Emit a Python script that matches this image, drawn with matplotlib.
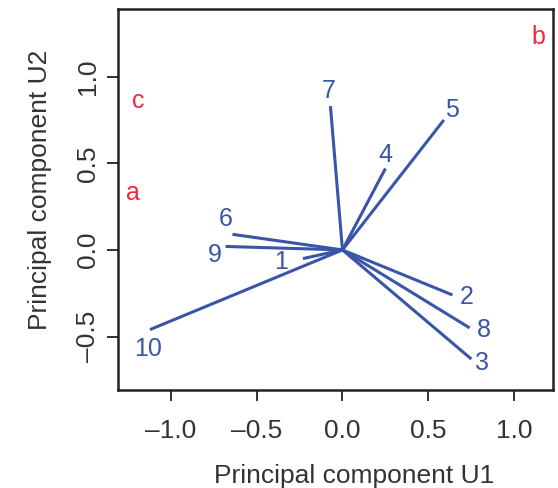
import matplotlib
matplotlib.use("Agg")
import matplotlib.pyplot as plt

plt.rcParams['font.family'] = ['Liberation Sans', 'DejaVu Sans']

# loadings (arrow end points)
ids = ["1", "2", "3", "4", "5", "6", "7", "8", "9", "10"]
u1 = [-0.23, 0.64, 0.75, 0.25, 0.59, -0.64, -0.07, 0.74, -0.68, -1.12]
u2 = [-0.05, -0.26, -0.63, 0.47, 0.75, 0.09, 0.83, -0.45, 0.02, -0.46]
# label positions
lab_u1 = [-0.36, 0.72, 0.81, 0.25, 0.64, -0.68, -0.08, 0.82, -0.74, -1.13]
lab_u2 = [-0.07, -0.27, -0.65, 0.55, 0.81, 0.18, 0.92, -0.46, -0.03, -0.57]

groups = ["a", "b", "c"]
grp_u1 = [-1.22, 1.14, -1.19]
grp_u2 = [0.33, 1.23, 0.86]

xticks = [-1.0, -0.5, 0.0, 0.5, 1.0]
yticks = [-0.5, 0.0, 0.5, 1.0]

blue = "#3A55A8"
red = "#F0283C"

fig = plt.figure(figsize=(5.58, 4.88), dpi=100)
ax = fig.add_axes([0.2115, 0.201, 0.7795, 0.780])

for x, y in zip(u1, u2):
    ax.plot([0, x], [0, y], color=blue, lw=2.2, solid_capstyle='butt')
for s, x, y in zip(ids, lab_u1, lab_u2):
    ax.text(x, y, s, color=blue, fontsize=18, ha='center', va='center')
for s, x, y in zip(groups, grp_u1, grp_u2):
    ax.text(x, y, s, color=red, fontsize=18, ha='center', va='center')

ax.set_xlim(-1.306, 1.225)
ax.set_ylim(-0.808, 1.389)
ax.set_xticks(xticks)
ax.set_yticks(yticks)
ax.set_xticklabels(["\u20131.0", "\u20130.5", "0.0", "0.5", "1.0"])
ax.set_yticklabels(["\u20130.5", "0.0", "0.5", "1.0"], rotation=90, va='center')
ax.tick_params(length=8, width=1.3, labelsize=19, color='#222222', labelcolor='#333333')
ax.tick_params(axis='x', pad=13)
ax.tick_params(axis='y', pad=5)
for sp in ax.spines.values():
    sp.set_linewidth(1.8)
    sp.set_color('#222222')
ax.set_xlabel("Principal component U1", fontsize=19, color='#333333', labelpad=15)
ax.set_ylabel("Principal component U2", fontsize=19, color='#333333', labelpad=17.5)
ax.xaxis.label.set_x(0.5425)
ax.yaxis.label.set_y(0.525)

fig.savefig("out.png", dpi=100)
